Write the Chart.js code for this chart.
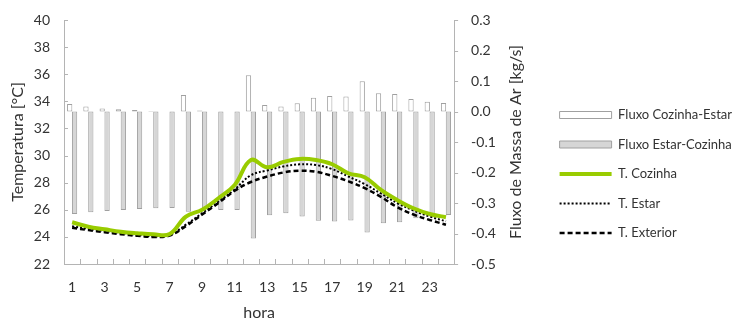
<!DOCTYPE html>
<html><head><meta charset="utf-8">
<script src="https://cdn.jsdelivr.net/npm/chart.js@4/dist/chart.umd.min.js"></script>
<style>html,body{margin:0;padding:0;background:#fff;}#wrap{width:732px;height:322px;}</style>
</head><body><div id="wrap"><canvas id="c" width="732" height="322"></canvas></div>
<script>
const hours = ['1','2','3','4','5','6','7','8','9','10','11','12','13','14','15','16','17','18','19','20','21','22','23','24'];
const fluxoCozinhaEstar = [0.025, 0.016, 0.010, 0.007, 0.005, 0.002, 0.0, 0.054, 0.003, 0.0, 0.0, 0.119, 0.021, 0.016, 0.027, 0.045, 0.051, 0.049, 0.099, 0.060, 0.057, 0.041, 0.032, 0.028];
const fluxoEstarCozinha = [-0.336, -0.330, -0.326, -0.323, -0.320, -0.317, -0.316, -0.329, -0.317, -0.323, -0.323, -0.416, -0.340, -0.334, -0.344, -0.358, -0.361, -0.357, -0.397, -0.366, -0.363, -0.350, -0.345, -0.339];
const tCozinha = [25.08, 24.75, 24.56, 24.38, 24.27, 24.19, 24.21, 25.50, 26.00, 26.85, 27.83, 29.67, 29.13, 29.53, 29.75, 29.67, 29.36, 28.69, 28.40, 27.46, 26.72, 26.11, 25.69, 25.45];
const tEstar = [24.78, 24.60, 24.45, 24.30, 24.15, 24.05, 24.15, 24.90, 25.75, 26.60, 27.50, 28.55, 28.90, 29.20, 29.35, 29.30, 29.00, 28.45, 27.90, 27.20, 26.50, 25.95, 25.50, 25.15];
const tExterior = [24.68, 24.50, 24.35, 24.20, 24.08, 24.00, 24.10, 24.80, 25.65, 26.50, 27.40, 28.05, 28.45, 28.75, 28.88, 28.80, 28.50, 28.10, 27.60, 26.95, 26.20, 25.65, 25.25, 24.90];
const tempRange = {min: 22, max: 40, step: 2};
const fluxRange = {min: -0.5, max: 0.3, step: 0.1};

const axisColor = '#b4b4b4';
const textColor = '#333333';
Chart.defaults.font.family = 'Lato';

const extras = {
  id: 'extras',
  afterDraw(chart) {
    const ctx = chart.ctx;
    const {x, y, y1} = chart.scales;
    const ca = chart.chartArea;
    ctx.save();
    ctx.strokeStyle = axisColor; ctx.lineWidth = 1;
    ctx.beginPath();
    y.ticks.forEach((t, i) => { const py = Math.round(y.getPixelForTick(i)) + 0.5; ctx.moveTo(ca.left, py); ctx.lineTo(ca.left + 4, py); });
    y1.ticks.forEach((t, i) => { const py = Math.round(y1.getPixelForTick(i)) + 0.5; ctx.moveTo(ca.right, py); ctx.lineTo(ca.right + 4, py); });
    for (let i = 1; i < hours.length; i++) {
      const px = Math.round((x.getPixelForValue(i - 1) + x.getPixelForValue(i)) / 2) + 0.5;
      ctx.moveTo(px, ca.bottom); ctx.lineTo(px, ca.bottom - 5);
    }
    ctx.stroke();
    ctx.translate(y1.right - 27, (ca.top + ca.bottom) / 2);
    ctx.rotate(-Math.PI / 2);
    ctx.font = '16px Lato'; ctx.fillStyle = textColor;
    ctx.textAlign = 'center'; ctx.textBaseline = 'middle';
    ctx.fillText('Fluxo de Massa de Ar [kg/s]', 0, 0);
    ctx.restore();
  }
};

const noPad = s => { s.paddingTop = 0; s.paddingBottom = 0; s.paddingLeft = 0; s.paddingRight = 0; };

new Chart(document.getElementById('c'), {
  type: 'bar',
  data: {
    labels: hours,
    datasets: [
      {type: 'bar', label: 'Fluxo Cozinha-Estar', data: fluxoCozinhaEstar, yAxisID: 'y1', backgroundColor: '#ffffff', borderColor: '#a0a0a0', borderWidth: 1, borderSkipped: false, categoryPercentage: 0.6, barPercentage: 1.08, order: 10},
      {type: 'bar', label: 'Fluxo Estar-Cozinha', data: fluxoEstarCozinha, yAxisID: 'y1', backgroundColor: '#d6d6d6', borderColor: '#a0a0a0', borderWidth: 1, borderSkipped: false, categoryPercentage: 0.6, barPercentage: 1.08, order: 10},
      {type: 'line', label: 'T. Cozinha', data: tCozinha, yAxisID: 'y', borderColor: '#99cc00', backgroundColor: '#99cc00', borderWidth: 4, pointRadius: 0, tension: 0.4, order: 0},
      {type: 'line', label: 'T. Estar', data: tEstar, yAxisID: 'y', borderColor: '#000000', backgroundColor: '#000000', borderWidth: 2, borderDash: [2, 2], pointRadius: 0, tension: 0.4, order: 1},
      {type: 'line', label: 'T. Exterior', data: tExterior, yAxisID: 'y', borderColor: '#000000', backgroundColor: '#000000', borderWidth: 2.5, borderDash: [5, 3], pointRadius: 0, tension: 0.4, order: 2}
    ]
  },
  options: {
    responsive: false, animation: false,
    layout: {padding: {top: 20, right: -10, bottom: 0, left: 0}},
    plugins: {
      tooltip: {enabled: false},
      legend: {
        position: 'right', align: 'start', maxWidth: 320,
        title: {display: true, text: '', font: {size: 10}, padding: {top: 60, bottom: 0}},
        labels: {
          usePointStyle: true, pointStyleWidth: 52, boxHeight: 7, padding: 16.5,
          font: {size: 13}, color: textColor,
          generateLabels(chart) {
            return chart.data.datasets.map((ds, i) => ({
              text: ds.label, datasetIndex: i,
              fillStyle: ds.backgroundColor, strokeStyle: ds.borderColor,
              lineWidth: ds.type === 'line' ? ds.borderWidth : 1,
              lineDash: ds.borderDash || [],
              pointStyle: ds.type === 'line' ? 'line' : 'rect',
              fontColor: textColor, hidden: false
            }));
          }
        }
      }
    },
    scales: {
      x: {
        offset: true,
        grid: {display: false, drawTicks: false},
        border: {display: true, color: axisColor, width: 1},
        ticks: {autoSkip: false, maxRotation: 0, padding: 15, color: textColor, font: {size: 14},
          callback: function(v, i) { return i % 2 === 0 ? this.getLabelForValue(v) : ''; }},
        title: {display: true, text: 'hora', color: textColor, font: {size: 16}, padding: {top: 6, bottom: 0}},
        afterFit: s => { s.height = 58; noPad(s); }
      },
      y: {
        position: 'left', min: tempRange.min, max: tempRange.max,
        grid: {display: false, drawTicks: false},
        border: {display: true, color: axisColor, width: 1},
        ticks: {stepSize: tempRange.step, padding: 14, color: textColor, font: {size: 14}},
        title: {display: true, text: 'Temperatura [°C]', color: textColor, font: {size: 16}, padding: {top: 8, bottom: 6}},
        afterFit: s => { s.width = 64; noPad(s); }
      },
      y1: {
        position: 'right', min: fluxRange.min, max: fluxRange.max,
        grid: {display: false, drawTicks: false},
        border: {display: true, color: axisColor, width: 1},
        ticks: {stepSize: fluxRange.step, padding: 17, color: textColor, font: {size: 14},
          callback: v => (Math.abs(v) < 1e-9 ? 0 : v).toFixed(1)},
        afterFit: s => { s.width = 89; noPad(s); }
      }
    }
  },
  plugins: [extras]
});
</script></body></html>
